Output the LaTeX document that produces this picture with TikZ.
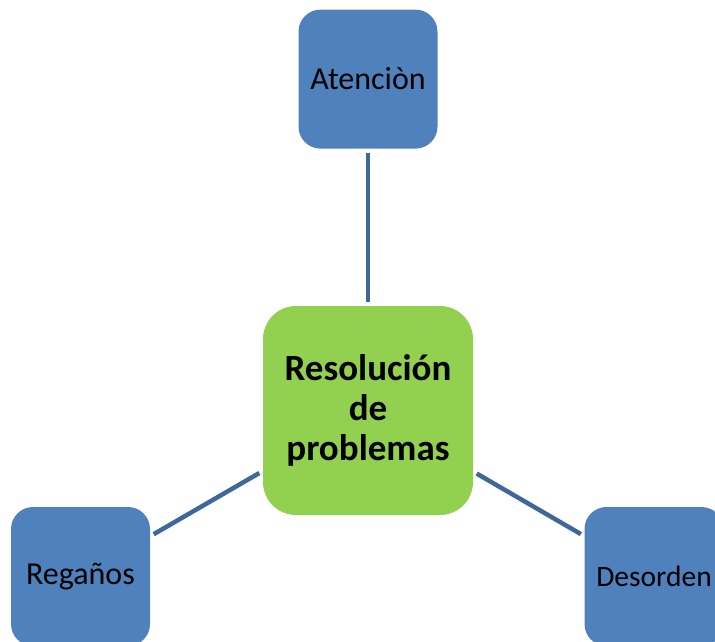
\documentclass[tikz,border=0pt]{standalone}
\usepackage{fontspec}
\setmainfont{Carlito}
\usetikzlibrary{positioning}
\definecolor{boxBlue}{HTML}{4F81BD}
\definecolor{boxGreen}{HTML}{92D050}
\definecolor{linkBlue}{HTML}{3E6899}
\tikzstyle{leafBox} = [draw=none, fill=boxBlue, rounded corners=22pt,
   minimum width=139pt, minimum height=139pt, inner sep=0pt,
   font=\fontsize{32}{38}\selectfont]
\tikzstyle{rootBox} = [draw=none, fill=boxGreen, rounded corners=33pt,
   minimum width=210pt, minimum height=209pt, inner sep=0pt, align=center,
   font=\bfseries\fontsize{37}{40}\selectfont]
\tikzstyle{link} = [draw=linkBlue, line width=4.5pt, shorten >=4pt, shorten <=4pt]

\begin{document}
\begin{tikzpicture}[x=1pt,y=-1pt]
	  \useasboundingbox (0,0) rectangle (715,641);
	  \clip (0,0) rectangle (715,641);

	  \node[rootBox] (root) at (368,410.5) {Resolución\\de\\problemas};
	  \node[leafBox, above=157pt of root] (aten) {Atenciòn};
	  \node[leafBox] (rega) at (80.5,576.5) {Regaños}; % cut by the frame
	  \node[leafBox, font=\fontsize{29.5}{36}\selectfont] (deso) at (654,576.5) {Desorden};

	  % links between centre and leaves
	  \draw[link] (aten) -- (root);
	  \draw[link] (rega) -- (root);
	  \draw[link] (deso) -- (root);
	\end{tikzpicture}
\end{document}
